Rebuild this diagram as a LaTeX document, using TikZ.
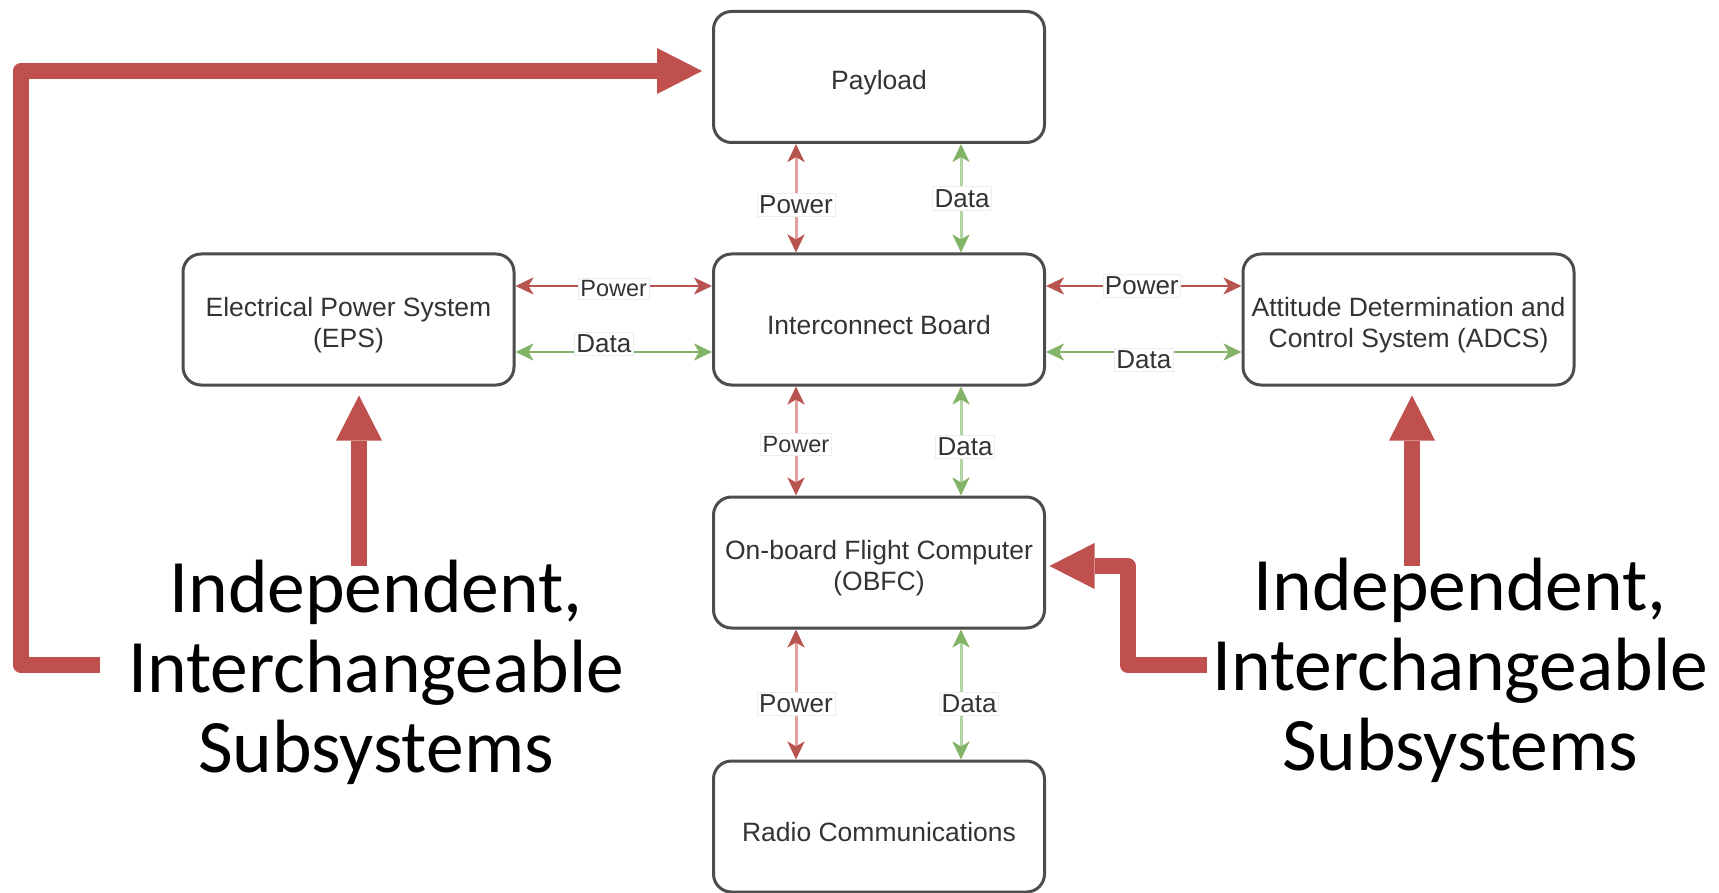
\documentclass[tikz,border=0pt]{standalone}
\usepackage{fontspec}
\setmainfont{Liberation Sans}
\newfontfamily\calloutfont{Carlito}
\usetikzlibrary{arrows.meta,calc}

\definecolor{pwr}{HTML}{B85450}
\definecolor{pwrfade}{HTML}{E0A09E}
\definecolor{dat}{HTML}{82B366}
\definecolor{datfade}{HTML}{B5D4A3}
\definecolor{callout}{HTML}{C0504D}
\definecolor{boxline}{HTML}{4D4D4D}
\definecolor{boxtext}{HTML}{333333}

% taller first line, so block captions sit a little below the middle
\newcommand\boxstrut{\rule{0pt}{31pt}}

\begin{document}
\begin{tikzpicture}[x=1pt,y=-1pt,
  subsys/.style={draw=boxline, line width=3pt, rounded corners=18pt,
    minimum width=331pt, minimum height=131pt, inner sep=0pt,
    align=center, text=boxtext, font=\fontsize{26.5}{31}\selectfont},
  lbl/.style={fill=white, draw=black!7, line width=0.6pt, inner xsep=2pt,
    inner ysep=2.5pt, text=boxtext, font=\fontsize{26}{30}\selectfont},
  ptip/.tip={Stealth[length=18pt,width=17pt,inset=5pt,color=pwr]},
  dtip/.tip={Stealth[length=18pt,width=17pt,inset=5pt,color=dat]},
  pwrh/.style={draw=pwr, line width=2.5pt, ptip-ptip},
  dath/.style={draw=dat, line width=2.5pt, dtip-dtip},
  pwrv/.style={draw=pwrfade, line width=3pt, ptip-ptip},
  datv/.style={draw=datfade, line width=3pt, dtip-dtip},
  bigarrow/.style={draw=callout, line width=16pt, line join=round,
    -{Triangle[length=45pt,width=46pt,line width=0pt]}},
  callouttext/.style={align=center, inner sep=0pt, text=black,
    font=\calloutfont\fontsize{75.5}{80}\selectfont}
]
\useasboundingbox (0,0) rectangle (1719,893);

% subsystem blocks
\node[subsys] (payload) at (879,77)    {\boxstrut Payload};
\node[subsys] (ib)      at (879,319.5) {\boxstrut Interconnect Board};
\node[subsys] (eps)     at (348.5,319.5) {\boxstrut Electrical Power System\\(EPS)};
\node[subsys] (adcs)    at (1408.5,319.5) {\boxstrut Attitude Determination and\\Control System (ADCS)};
\node[subsys] (obfc)    at (879,562.5) {\boxstrut On-board Flight Computer\\(OBFC)};
\node[subsys] (radio)   at (879,826.5) {\boxstrut Radio Communications};

% bus lanes
\coordinate (pv) at (796,0);
\coordinate (dv) at (961,0);
\coordinate (ph) at (0,286);
\coordinate (dh) at (0,352);

% vertical links
\draw[pwrv] (payload.south -| pv) -- node[lbl, pos=0.56] {Power} (ib.north -| pv);
\draw[datv] (payload.south -| dv) -- node[lbl, pos=0.5, xshift=1pt] {Data} (ib.north -| dv);
\draw[pwrv] (ib.south -| pv) -- node[lbl, pos=0.53, font=\fontsize{23.5}{28}\selectfont] {Power} (obfc.north -| pv);
\draw[datv] (ib.south -| dv) -- node[lbl, pos=0.55, xshift=4pt] {Data} (obfc.north -| dv);
\draw[pwrv] (obfc.south -| pv) -- node[lbl, pos=0.57] {Power} (radio.north -| pv);
\draw[datv] (obfc.south -| dv) -- node[lbl, pos=0.57, xshift=8pt] {Data} (radio.north -| dv);

% horizontal links
\draw[pwrh] (eps.east |- ph) -- node[lbl, pos=0.5, yshift=-3pt, font=\fontsize{23.5}{28}\selectfont] {Power} (ib.west |- ph);
\draw[dath] (eps.east |- dh) -- node[lbl, pos=0.45, yshift=8pt] {Data} (ib.west |- dh);
\draw[pwrh] (ib.east |- ph) -- node[lbl, pos=0.49] {Power} (adcs.west |- ph);
\draw[dath] (ib.east |- dh) -- node[lbl, pos=0.5, yshift=-8pt] {Data} (adcs.west |- dh);

% callouts (base anchor sits on the last line)
\node[callouttext, anchor=base] (lnote) at (376,772) {Independent,\\Interchangeable\\Subsystems};
\node[callouttext, anchor=base] (rnote) at (1460,770) {Independent,\\Interchangeable\\Subsystems};

\coordinate (lstart) at (100,665);
\coordinate (lbend)  at (20.5,71);
\coordinate (payin)  at ([xshift=-10pt,yshift=6pt]payload.west);
\draw[bigarrow] (lstart) -| (lbend) -- (payin);

\coordinate (estart) at (359,566);
\coordinate (epsin)  at ([xshift=10.5pt,yshift=-9pt]eps.south);
\draw[bigarrow] (estart) -- (epsin);

\coordinate (astart) at (1412,566);
\coordinate (adcsin) at ([xshift=3.5pt,yshift=-9pt]adcs.south);
\draw[bigarrow] (astart) -- (adcsin);

\coordinate (ostart) at (1207,665);
\coordinate (obend)  at (1127.5,566);
\coordinate (obfcin) at ([xshift=3.5pt,yshift=-3.5pt]obfc.east);
\draw[bigarrow] (ostart) -| (obend) -- (obfcin);
\end{tikzpicture}
\end{document}
